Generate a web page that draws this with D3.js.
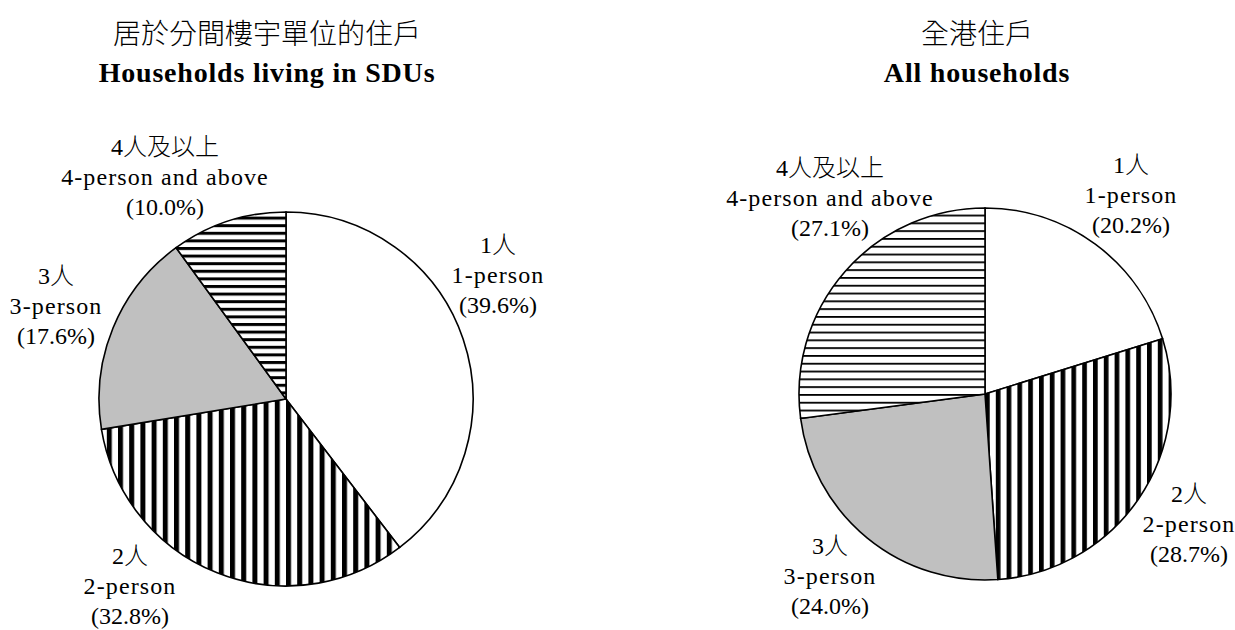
<!DOCTYPE html>
<html>
<head>
<meta charset="utf-8">
<script src="https://cdn.jsdelivr.net/npm/d3@7/dist/d3.min.js"></script>
<style>
  html, body { margin: 0; padding: 0; background: #fff; }
  svg { display: block; }
</style>
</head>
<body>
<svg id="chart" width="1235" height="630"></svg>
<script>
// Household size categories
const categoriesZh = ["1人", "2人", "3人", "4人及以上"];
const categoriesEn = ["1-person", "2-person", "3-person", "4-person and above"];

// Share of households (%) by household size
const sduShares = [39.6, 32.8, 17.6, 10.0];
const allShares = [20.2, 28.7, 24.0, 27.1];

// Panel titles
const titlesZh = ["居於分間樓宇單位的住戶", "全港住戶"];
const titlesEn = ["Households living in SDUs", "All households"];

const svg = d3.select("#chart");
const defs = svg.append("defs");

const serif = "'Liberation Serif', 'Times New Roman', serif";
const cjk = "'Noto Sans CJK TC', sans-serif";

// Stripe patterns
function stripes(id, dir, period, thick) {
  const w = dir === "v" ? period : 10;
  const h = dir === "v" ? 10 : period;
  const p = defs.append("pattern")
    .attr("id", id)
    .attr("patternUnits", "userSpaceOnUse")
    .attr("width", w)
    .attr("height", h);
  p.append("rect").attr("width", w).attr("height", h).attr("fill", "#fff");
  p.append("rect")
    .attr("width", dir === "v" ? thick : 10)
    .attr("height", dir === "v" ? 10 : thick)
    .attr("fill", "#000");
}
stripes("vWide", "v", 11.2, 5);
stripes("hThick", "h", 7.6, 3);
stripes("vWide2", "v", 10.8, 4.7);
stripes("hThin", "h", 7.8, 1.8);

const panels = [
  {
    values: sduShares, cx: 286, cy: 399, r: 187, titleX: 267,
    fills: ["#fff", "url(#vWide)", "#c0c0c0", "url(#hThick)"],
    labels: [[498, 253], [130, 564], [56, 284], [165, 155]]
  },
  {
    values: allShares, cx: 985, cy: 394, r: 186, titleX: 977,
    fills: ["#fff", "url(#vWide2)", "#c0c0c0", "url(#hThin)"],
    labels: [[1131, 173], [1189, 502], [830, 554], [830, 176]]
  }
];

const pie = d3.pie().sort(null).value(d => d);
const lineGap = 30;

panels.forEach((pn, i) => {
  const g = svg.append("g").attr("transform", `translate(${pn.cx},${pn.cy})`);
  const arc = d3.arc().innerRadius(0).outerRadius(pn.r);
  g.selectAll("path")
    .data(pie(pn.values))
    .join("path")
    .attr("d", arc)
    .attr("fill", (d, j) => pn.fills[j])
    .attr("stroke", "#000")
    .attr("stroke-width", 1.6)
    .attr("stroke-linejoin", "miter");

  // Titles
  svg.append("text")
    .attr("x", pn.titleX).attr("y", 44)
    .attr("text-anchor", "middle")
    .attr("font-family", cjk)
    .attr("font-weight", 300)
    .attr("font-size", 28)
    .attr("fill", "#000")
    .text(titlesZh[i]);
  svg.append("text")
    .attr("x", pn.titleX).attr("y", 82)
    .attr("text-anchor", "middle")
    .attr("font-family", serif)
    .attr("font-weight", "bold")
    .attr("font-size", 28)
    .attr("letter-spacing", 0.8)
    .attr("fill", "#000")
    .text(titlesEn[i]);

  // Slice labels: Chinese name, English name, share
  pn.values.forEach((v, j) => {
    const [lx, ly] = pn.labels[j];
    const t = svg.append("text")
      .attr("text-anchor", "middle")
      .attr("font-family", `'Liberation Serif', 'Noto Sans CJK TC', serif`)
      .attr("font-size", 24)
      .attr("fill", "#000");
    t.append("tspan").attr("x", lx).attr("y", ly)
      .attr("font-weight", 300)
      .text(categoriesZh[j]);
    t.append("tspan").attr("x", lx).attr("y", ly + lineGap)
      .attr("letter-spacing", 1.1)
      .text(categoriesEn[j]);
    t.append("tspan").attr("x", lx).attr("y", ly + 2 * lineGap)
      .text(`(${v.toFixed(1)}%)`);
  });
});
</script>
</body>
</html>
